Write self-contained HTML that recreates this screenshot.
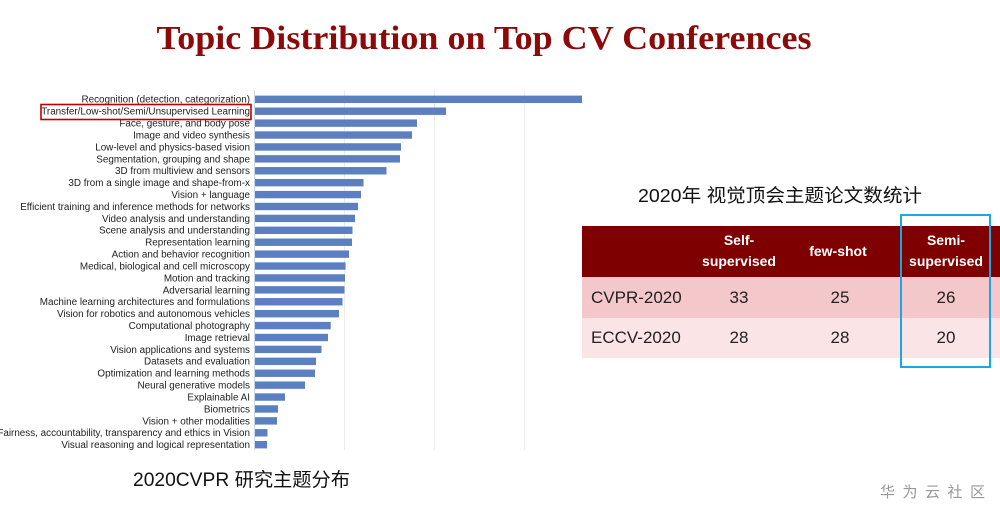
<!DOCTYPE html>
<html><head><meta charset="utf-8"><style>
html,body{margin:0;padding:0;background:#fff;}
svg{display:block;}
</style></head><body>
<svg width="1000" height="516" viewBox="0 0 1000 516" xmlns="http://www.w3.org/2000/svg">
<rect width="1000" height="516" fill="#fff"/>
<text x="484" y="49" text-anchor="middle" font-family="Liberation Serif, serif" font-weight="bold" font-size="34" fill="#8b0a0a" textLength="655" lengthAdjust="spacingAndGlyphs">Topic Distribution on Top CV Conferences</text>
<g stroke="#ececec" stroke-width="1">
<line x1="344.5" y1="90" x2="344.5" y2="450"/>
<line x1="434.5" y1="90" x2="434.5" y2="450"/>
<line x1="524.5" y1="90" x2="524.5" y2="450"/>
</g>
<line x1="254.5" y1="90" x2="254.5" y2="450" stroke="#cfd8ea" stroke-width="1"/>
<g id="bars" fill="#5b7fc0" font-family="Liberation Sans, sans-serif" font-size="9.9">
</g>
<rect x="41" y="104.5" width="210" height="15" fill="none" stroke="#c00000" stroke-width="1.6"/>
<text x="638" y="202" font-family="Liberation Sans, 'Noto Sans CJK SC', sans-serif" font-size="18.5" fill="#111" textLength="284" lengthAdjust="spacingAndGlyphs">2020年 视觉顶会主题论文数统计</text>
<rect x="582" y="226" width="418" height="51" fill="#7f0000"/>
<rect x="582" y="277" width="418" height="41" fill="#f4c7ca"/>
<rect x="582" y="318" width="418" height="40" fill="#fbe4e5"/>
<g font-family="Liberation Sans, sans-serif" font-weight="bold" font-size="14" fill="#fff" text-anchor="middle">
<text x="739" y="245">Self-</text><text x="739" y="266">supervised</text>
<text x="838" y="256">few-shot</text>
<text x="946" y="245">Semi-</text><text x="946" y="266">supervised</text>
</g>
<g font-family="Liberation Sans, sans-serif" font-size="17" fill="#222">
<text x="591" y="303">CVPR-2020</text><text x="591" y="343">ECCV-2020</text>
<g text-anchor="middle">
<text x="739" y="303">33</text><text x="840" y="303">25</text><text x="946" y="303">26</text>
<text x="739" y="343">28</text><text x="840" y="343">28</text><text x="946" y="343">20</text>
</g></g>
<rect x="901" y="215" width="89" height="152" fill="none" stroke="#1aa7e8" stroke-width="2"/>
<text x="133" y="486" font-family="Liberation Sans, 'Noto Sans CJK SC', sans-serif" font-size="19" fill="#111" textLength="217" lengthAdjust="spacingAndGlyphs">2020CVPR 研究主题分布</text>
<text x="880" y="497" font-family="'Noto Sans CJK SC', sans-serif" font-size="15" fill="#999" textLength="105" lengthAdjust="spacing">华为云社区</text>
</svg>
<script>
var d=[["Recognition (detection, categorization)",582],["Transfer/Low-shot/Semi/Unsupervised Learning",446],["Face, gesture, and body pose",417],["Image and video synthesis",412],["Low-level and physics-based vision",401],["Segmentation, grouping and shape",400],["3D from multiview and sensors",386.5],["3D from a single image and shape-from-x",363.5],["Vision + language",361],["Efficient training and inference methods for networks",358],["Video analysis and understanding",355],["Scene analysis and understanding",352.5],["Representation learning",352],["Action and behavior recognition",349],["Medical, biological and cell microscopy",345.6],["Motion and tracking",345],["Adversarial learning",344.5],["Machine learning architectures and formulations",342.5],["Vision for robotics and autonomous vehicles",339],["Computational photography",330.7],["Image retrieval",328],["Vision applications and systems",321.5],["Datasets and evaluation",316],["Optimization and learning methods",315],["Neural generative models",305],["Explainable AI",285],["Biometrics",278],["Vision + other modalities",277],["Fairness, accountability, transparency and ethics in Vision",267.5],["Visual reasoning and logical representation",267]];
var g=document.getElementById("bars"),ns="http://www.w3.org/2000/svg";
d.forEach(function(r,i){var cy=99.3+i*11.91;
var b=document.createElementNS(ns,"rect");b.setAttribute("x",255);b.setAttribute("y",cy-3.7);b.setAttribute("width",r[1]-255);b.setAttribute("height",7.4);g.appendChild(b);
var t=document.createElementNS(ns,"text");t.setAttribute("x",250);t.setAttribute("y",cy+3.4);t.setAttribute("text-anchor","end");t.setAttribute("fill","#222");t.textContent=r[0];g.appendChild(t);});
</script>
</body></html>
